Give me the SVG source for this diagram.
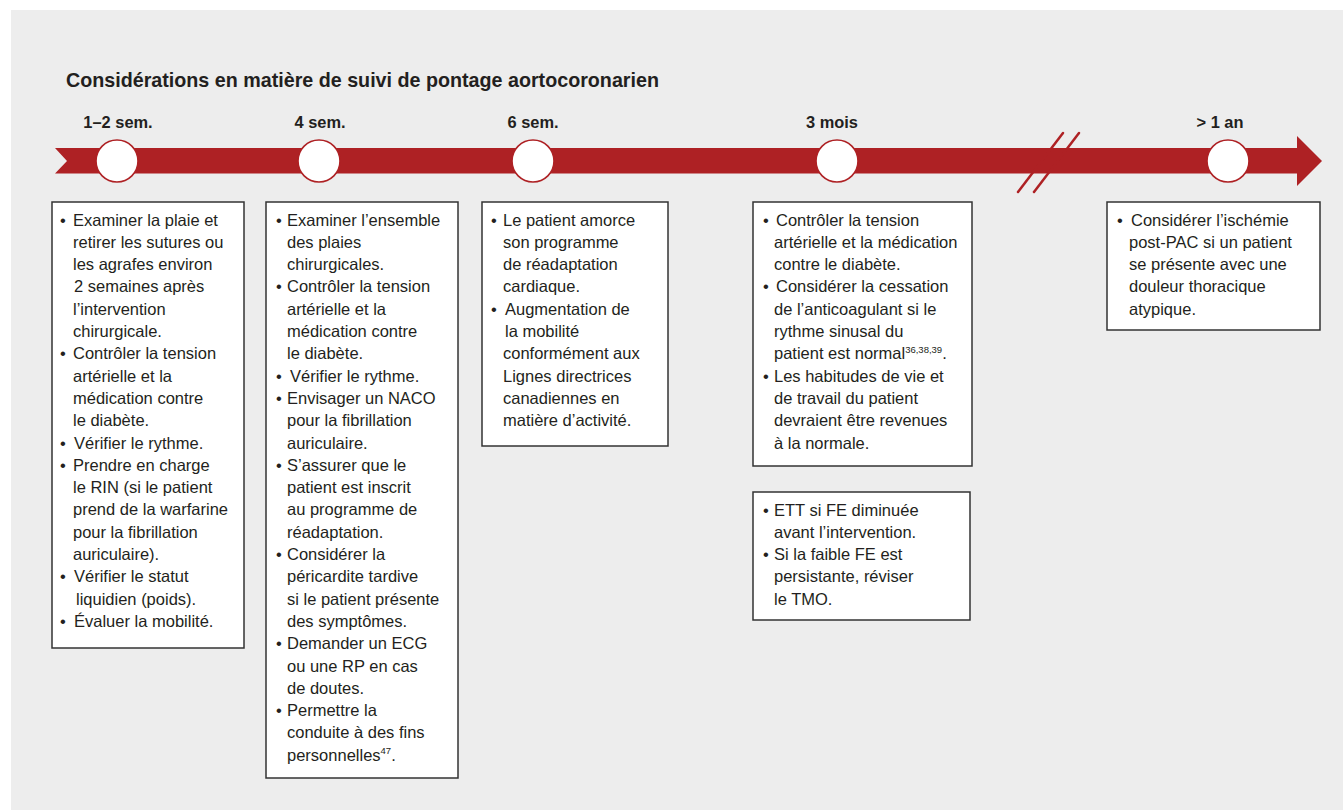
<svg xmlns="http://www.w3.org/2000/svg" width="1343" height="810" viewBox="0 0 1343 810">
<defs>
<style>
.bg{fill:#ededed}
.band{fill:#ae2124}
.brk{stroke:#ae2124;stroke-width:2.5;stroke-linecap:round}
.dot{fill:#fff;stroke:#ae2124;stroke-width:1.6}
.title{font-family:"Liberation Sans",Arial,sans-serif;font-weight:bold;font-size:19.7px;fill:#231f20}
.lbl{font-family:"Liberation Sans",Arial,sans-serif;font-weight:bold;font-size:16.4px;fill:#231f20;text-anchor:middle}
.box{fill:#fff;stroke:#333;stroke-width:1.5}
.t{font-family:"Liberation Sans",Arial,sans-serif;font-size:16.5px;fill:#231f20}
.sup{font-size:9.5px}
</style>
</defs>
<rect class="bg" x="11" y="10" width="1332" height="800"/>
<text class="title" x="66" y="87">Considérations en matière de suivi de pontage aortocoronarien</text>

<g id="timeline">
<polygon class="band" points="55,148 1297,148 1297,136 1322,161 1297,186 1297,173.5 55,173.5 67,161"/>
<line class="brk" x1="1018" y1="192" x2="1063" y2="133"/>
<line class="brk" x1="1034" y1="192" x2="1079" y2="133"/>
</g>

<g id="m1"><circle class="dot" cx="117" cy="161" r="21"/><text class="lbl" x="118" y="128">1–2 sem.</text></g>
<g id="m2"><circle class="dot" cx="319" cy="161" r="21"/><text class="lbl" x="320" y="128">4 sem.</text></g>
<g id="m3"><circle class="dot" cx="533" cy="161" r="21"/><text class="lbl" x="533" y="128">6 sem.</text></g>
<g id="m4"><circle class="dot" cx="837" cy="161" r="21"/><text class="lbl" x="832" y="128">3 mois</text></g>
<g id="m5"><circle class="dot" cx="1228" cy="161" r="21"/><text class="lbl" x="1220" y="128">&gt; 1 an</text></g>

<g id="box1">
<rect class="box" x="52" y="202" width="192" height="446"/>
<text class="t">
<tspan x="60" y="225.5">•</tspan><tspan x="73" y="225.5">Examiner la plaie et</tspan>
<tspan x="73" y="247.8">retirer les sutures ou</tspan>
<tspan x="73" y="270.1">les agrafes environ</tspan>
<tspan x="74" y="292.4">2 semaines après</tspan>
<tspan x="73" y="314.7">l’intervention</tspan>
<tspan x="73" y="337">chirurgicale.</tspan>
<tspan x="60" y="359.3">•</tspan><tspan x="73" y="359.3">Contrôler la tension</tspan>
<tspan x="73" y="381.6">artérielle et la</tspan>
<tspan x="73" y="403.9">médication contre</tspan>
<tspan x="73" y="426.2">le diabète.</tspan>
<tspan x="60" y="448.5">•</tspan><tspan x="74" y="448.5">Vérifier le rythme.</tspan>
<tspan x="60" y="470.8">•</tspan><tspan x="73" y="470.8">Prendre en charge</tspan>
<tspan x="73" y="493.1">le RIN (si le patient</tspan>
<tspan x="73" y="515.4">prend de la warfarine</tspan>
<tspan x="73" y="537.7">pour la fibrillation</tspan>
<tspan x="73" y="560">auriculaire).</tspan>
<tspan x="60" y="582.3">•</tspan><tspan x="74" y="582.3">Vérifier le statut</tspan>
<tspan x="76" y="604.6">liquidien (poids).</tspan>
<tspan x="60" y="626.9">•</tspan><tspan x="74" y="626.9">Évaluer la mobilité.</tspan>
</text>
</g>

<g id="box2">
<rect class="box" x="266" y="202" width="192" height="576"/>
<text class="t">
<tspan x="276" y="225.5">•</tspan><tspan x="287" y="225.5">Examiner l’ensemble</tspan>
<tspan x="287" y="247.8">des plaies</tspan>
<tspan x="287" y="270.1">chirurgicales.</tspan>
<tspan x="276" y="292.4">•</tspan><tspan x="287" y="292.4">Contrôler la tension</tspan>
<tspan x="287" y="314.7">artérielle et la</tspan>
<tspan x="287" y="337">médication contre</tspan>
<tspan x="287" y="359.3">le diabète.</tspan>
<tspan x="276" y="381.6">•</tspan><tspan x="290" y="381.6">Vérifier le rythme.</tspan>
<tspan x="276" y="403.9">•</tspan><tspan x="287" y="403.9">Envisager un NACO</tspan>
<tspan x="287" y="426.2">pour la fibrillation</tspan>
<tspan x="287" y="448.5">auriculaire.</tspan>
<tspan x="276" y="470.8">•</tspan><tspan x="287" y="470.8">S’assurer que le</tspan>
<tspan x="287" y="493.1">patient est inscrit</tspan>
<tspan x="287" y="515.4">au programme de</tspan>
<tspan x="287" y="537.7">réadaptation.</tspan>
<tspan x="276" y="560">•</tspan><tspan x="287" y="560">Considérer la</tspan>
<tspan x="287" y="582.3">péricardite tardive</tspan>
<tspan x="287" y="604.6">si le patient présente</tspan>
<tspan x="287" y="626.9">des symptômes.</tspan>
<tspan x="276" y="649.2">•</tspan><tspan x="287" y="649.2">Demander un ECG</tspan>
<tspan x="287" y="671.5">ou une RP en cas</tspan>
<tspan x="287" y="693.8">de doutes.</tspan>
<tspan x="276" y="716.1">•</tspan><tspan x="287" y="716.1">Permettre la</tspan>
<tspan x="287" y="738.4">conduite à des fins</tspan>
<tspan x="287" y="760.7">personnelles</tspan><tspan class="sup" dy="-6.5">47</tspan><tspan dy="6.5">.</tspan>
</text>
</g>

<g id="box3">
<rect class="box" x="482" y="202" width="186" height="244"/>
<text class="t">
<tspan x="491" y="225.5">•</tspan><tspan x="503" y="225.5">Le patient amorce</tspan>
<tspan x="503" y="247.8">son programme</tspan>
<tspan x="503" y="270.1">de réadaptation</tspan>
<tspan x="503" y="292.4">cardiaque.</tspan>
<tspan x="491" y="314.7">•</tspan><tspan x="505" y="314.7">Augmentation de</tspan>
<tspan x="505" y="337">la mobilité</tspan>
<tspan x="503" y="359.3">conformément aux</tspan>
<tspan x="503" y="381.6">Lignes directrices</tspan>
<tspan x="503" y="403.9">canadiennes en</tspan>
<tspan x="503" y="426.2">matière d’activité.</tspan>
</text>
</g>

<g id="box4">
<rect class="box" x="753" y="202" width="219" height="264"/>
<text class="t">
<tspan x="763" y="225.5">•</tspan><tspan x="776" y="225.5">Contrôler la tension</tspan>
<tspan x="774" y="247.8">artérielle et la médication</tspan>
<tspan x="774" y="270.1">contre le diabète.</tspan>
<tspan x="763" y="292.4">•</tspan><tspan x="776" y="292.4">Considérer la cessation</tspan>
<tspan x="774" y="314.7">de l’anticoagulant si le</tspan>
<tspan x="774" y="337">rythme sinusal du</tspan>
<tspan x="774" y="359.3">patient est normal</tspan><tspan class="sup" dy="-6.5">36,38,39</tspan><tspan dy="6.5">.</tspan>
<tspan x="763" y="381.6">•</tspan><tspan x="774" y="381.6">Les habitudes de vie et</tspan>
<tspan x="774" y="403.9">de travail du patient</tspan>
<tspan x="774" y="426.2">devraient être revenues</tspan>
<tspan x="774" y="448.5">à la normale.</tspan>
</text>
</g>

<g id="box5">
<rect class="box" x="753" y="492" width="217" height="128"/>
<text class="t">
<tspan x="763" y="515.5">•</tspan><tspan x="774" y="515.5">ETT si FE diminuée</tspan>
<tspan x="774" y="537.8">avant l’intervention.</tspan>
<tspan x="763" y="560.1">•</tspan><tspan x="774" y="560.1">Si la faible FE est</tspan>
<tspan x="774" y="582.4">persistante, réviser</tspan>
<tspan x="774" y="604.7">le TMO.</tspan>
</text>
</g>

<g id="box6">
<rect class="box" x="1107" y="202" width="213" height="128"/>
<text class="t">
<tspan x="1117" y="225.5">•</tspan><tspan x="1131" y="225.5">Considérer l’ischémie</tspan>
<tspan x="1129" y="247.8">post-PAC si un patient</tspan>
<tspan x="1129" y="270.1">se présente avec une</tspan>
<tspan x="1129" y="292.4">douleur thoracique</tspan>
<tspan x="1129" y="314.7">atypique.</tspan>
</text>
</g>
</svg>
